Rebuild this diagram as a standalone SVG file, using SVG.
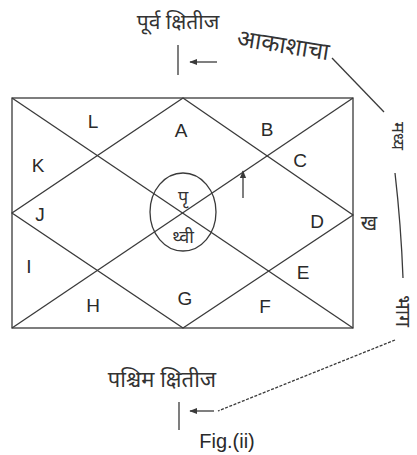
<svg xmlns="http://www.w3.org/2000/svg" width="417" height="455" viewBox="0 0 417 455">
<defs>
<style>
.ln{stroke:#3a3a3a;stroke-width:1.3;fill:none}
.lt{font-family:"Liberation Sans",Arial,sans-serif;font-size:19px;fill:#2a2a2a;text-anchor:middle}
.dv{font-family:"Noto Sans Devanagari","Noto Sans","Lohit Devanagari",sans-serif;font-size:20px;fill:#333;text-anchor:middle}
</style>
<marker id="ah" viewBox="0 0 10 10" refX="9" refY="5" markerWidth="6" markerHeight="6" orient="auto-start-reverse">
<path d="M0,1 L10,5 L0,9 z" fill="#3a3a3a"/>
</marker>
</defs>
<rect width="417" height="455" fill="#fff"/>
<g id="connectors">
<rect class="ln" x="12" y="98" width="341" height="230"/>
<line class="ln" x1="12" y1="98" x2="353" y2="328"/>
<line class="ln" x1="353" y1="98" x2="12" y2="328"/>
<polygon class="ln" points="183,98 353,215 183,328 12,213"/>
<line class="ln" x1="178" y1="45" x2="178" y2="75"/>
<line class="ln" x1="217" y1="62" x2="190" y2="62" marker-end="url(#ah)"/>
<line class="ln" x1="332" y1="58" x2="384" y2="112"/>
<path class="ln" d="M395,173 Q401,225 403,278"/>
<path class="ln" d="M395,340 L218,411" stroke-dasharray="3,1.5"/>
<line class="ln" x1="214" y1="411" x2="190" y2="411" marker-end="url(#ah)"/>
<line class="ln" x1="179" y1="402" x2="179" y2="430"/>
<line class="ln" x1="243" y1="198" x2="243" y2="171" marker-end="url(#ah)"/>
</g>
<g id="earth">
<ellipse class="ln" cx="183" cy="212" rx="33" ry="39"/>
<text class="dv" x="183" y="203" style="font-size:18px">पृ</text>
<text class="dv" x="183" y="243" style="font-size:18px">थ्वी</text>
</g>
<g id="houses">
<text class="lt" x="93" y="128">L</text>
<text class="lt" x="181" y="137">A</text>
<text class="lt" x="267" y="136">B</text>
<text class="lt" x="300" y="167">C</text>
<text class="lt" x="38" y="172">K</text>
<text class="lt" x="40" y="221">J</text>
<text class="lt" x="317" y="228">D</text>
<text class="lt" x="29" y="273">I</text>
<text class="lt" x="303" y="279">E</text>
<text class="lt" x="93" y="312">H</text>
<text class="lt" x="185" y="305">G</text>
<text class="lt" x="265" y="313">F</text>
</g>
<g id="labels">
<text class="dv" x="178" y="29" style="font-size:21px">पूर्व क्षितीज</text>
<text class="dv" x="282" y="53" transform="rotate(9 282 53)" style="font-size:24px">आकाशाचा</text>
<text class="dv" x="392" y="136" transform="rotate(90 392 136)" style="font-size:18px">मध्य</text>
<text class="dv" x="369" y="230" style="font-size:20px">ख</text>
<text class="dv" x="396" y="311" transform="rotate(90 396 311)" style="font-size:21px">भाग</text>
<text class="dv" x="162" y="387" style="font-size:22px">पश्चिम क्षितीज</text>
<text class="lt" x="227" y="448" style="font-size:20px">Fig.(ii)</text>
</g>
</svg>
